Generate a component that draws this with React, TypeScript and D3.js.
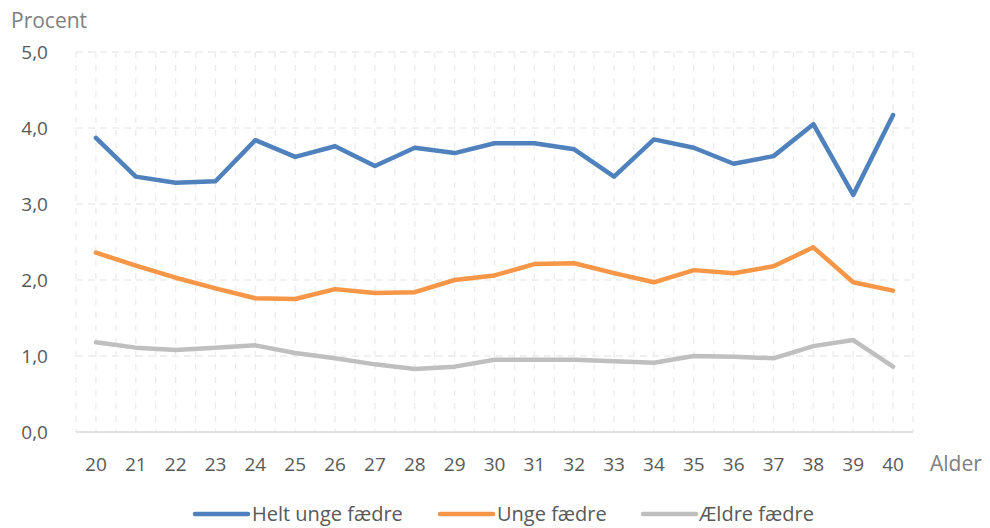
import React from 'react';
import * as d3 from 'd3';

// ages on the x axis
const ages = [20, 21, 22, 23, 24, 25, 26, 27, 28, 29, 30, 31, 32, 33, 34, 35, 36, 37, 38, 39, 40];

const heltUnge = [3.87, 3.36, 3.28, 3.3, 3.84, 3.62, 3.76, 3.5, 3.74, 3.67, 3.8, 3.8, 3.72, 3.36, 3.85, 3.74, 3.53, 3.63, 4.05, 3.12, 4.17];
const unge = [2.36, 2.19, 2.03, 1.89, 1.76, 1.75, 1.88, 1.83, 1.84, 2.0, 2.06, 2.21, 2.22, 2.09, 1.97, 2.13, 2.09, 2.18, 2.43, 1.97, 1.86];
const aeldre = [1.18, 1.11, 1.08, 1.11, 1.14, 1.04, 0.97, 0.89, 0.83, 0.86, 0.95, 0.95, 0.95, 0.93, 0.91, 1.0, 0.99, 0.97, 1.13, 1.21, 0.86];

const yTicks = [0, 1, 2, 3, 4, 5];

const seriesNames = ['Helt unge fædre', 'Unge fædre', 'Ældre fædre'];
const seriesColors = ['#4f81bd', '#f79646', '#bfbfbf'];

const W = 990;
const H = 528;
const margin = { top: 52, right: 77, bottom: 96, left: 76 };
const font = '"Open Sans", sans-serif';

export default function App() {
  const plotW = W - margin.left - margin.right;
  const plotH = H - margin.top - margin.bottom;

  const x = d3.scaleBand<number>().domain(ages).range([0, plotW]).padding(0);
  const y = d3.scaleLinear().domain([0, 5]).range([plotH, 0]);
  const cx = (a: number) => (x(a) ?? 0) + x.bandwidth() / 2;

  const line = d3.line<number>()
    .x((_, i) => cx(ages[i]))
    .y(d => y(d));

  const allSeries = [heltUnge, unge, aeldre];

  // vertical gridlines at band edges and centres
  const vLines: number[] = [];
  ages.forEach(a => {
    vLines.push(x(a) ?? 0);
    vLines.push(cx(a));
  });
  vLines.push(plotW);

  const legendItems = [
    { x: 195, textX: 252 },
    { x: 440, textX: 497 },
    { x: 643, textX: 699 },
  ];

  return (
    <svg width={W} height={H} style={{ position: 'absolute', left: 0, top: 0, background: '#fff' }}>
      <g transform={`translate(${margin.left},${margin.top})`}>
        {vLines.map((v, i) => (
          <line key={'v' + i} x1={v} x2={v} y1={0} y2={plotH}
            stroke="#ebebeb" strokeWidth={1.3} strokeDasharray="6,7" />
        ))}
        {yTicks.filter(t => t > 0).map(t => (
          <line key={'h' + t} x1={0} x2={plotW} y1={y(t)} y2={y(t)}
            stroke="#ebebeb" strokeWidth={1.3} strokeDasharray="7,5" />
        ))}
        <line x1={0} x2={plotW} y1={y(0)} y2={y(0)} stroke="#d9d9d9" strokeWidth={1.3} />

        {allSeries.map((s, i) => (
          <path key={i} d={line(s) ?? ''} fill="none" stroke={seriesColors[i]}
            strokeWidth={4.5} strokeLinejoin="round" strokeLinecap="round" />
        ))}

        {yTicks.map(t => (
          <text key={'yt' + t} x={-28} y={y(t)} dy="0.35em" textAnchor="end"
            fontFamily={font} fontSize={19} fill="#595959">
            {d3.format('.1f')(t).replace('.', ',')}
          </text>
        ))}
        {ages.map(a => (
          <text key={'xt' + a} x={cx(a)} y={plotH + 32} dy="0.35em" textAnchor="middle"
            fontFamily={font} fontSize={19} fill="#595959">
            {a}
          </text>
        ))}
      </g>

      <text x={11} y={28} fontFamily={font} fontSize={21} fill="#808080">Procent</text>
      <text x={930} y={464} dy="0.35em" fontFamily={font} fontSize={21} fill="#808080">Alder</text>

      {legendItems.map((it, i) => (
        <g key={'lg' + i}>
          <line x1={it.x} x2={it.x + 53} y1={514} y2={514} stroke={seriesColors[i]}
            strokeWidth={4.5} strokeLinecap="round" />
          <text x={it.textX} y={514} dy="0.35em" fontFamily={font} fontSize={20} fill="#595959">
            {seriesNames[i]}
          </text>
        </g>
      ))}
    </svg>
  );
}
